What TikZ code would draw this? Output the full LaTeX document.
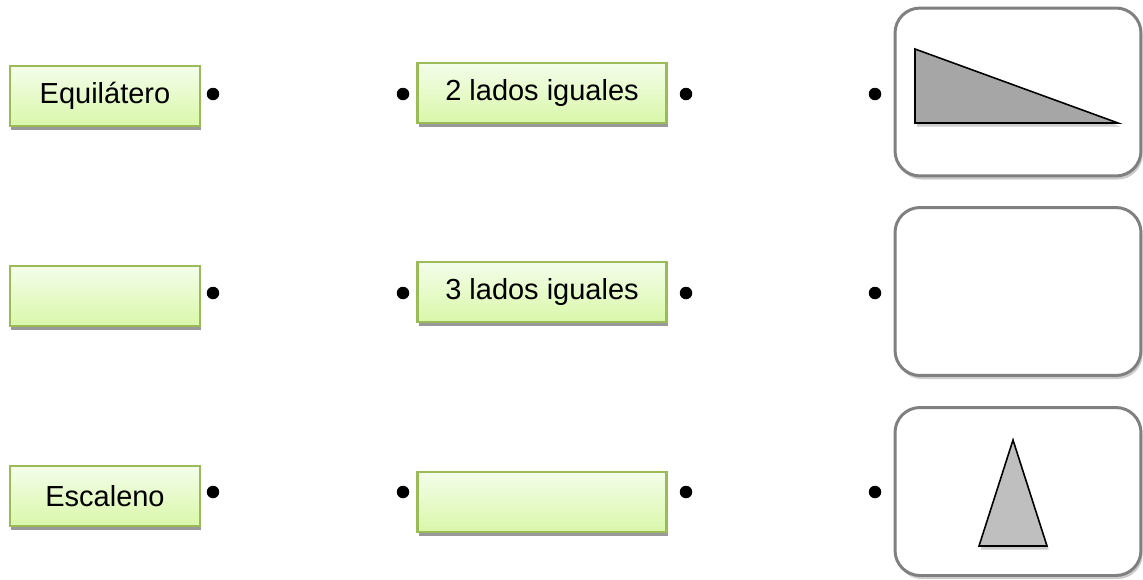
\documentclass[tikz,border=0pt]{standalone}
\usepackage{fontspec}
\setmainfont{Liberation Sans}
\usetikzlibrary{shadows}
\definecolor{boxgreen}{HTML}{9BBB59}
\definecolor{topgreen}{HTML}{F4FDEA}
\definecolor{botgreen}{HTML}{D9F7A9}
\definecolor{framegray}{HTML}{808080}
\definecolor{darktri}{HTML}{A6A6A6}
\definecolor{lighttri}{HTML}{BFBFBF}

\begin{document}
\begin{tikzpicture}[x=0.02cm,y=-0.02cm,
  lbl/.style={rectangle,draw=boxgreen,line width=1.3pt,top color=topgreen,bottom color=botgreen,minimum height=1.2cm,inner sep=0pt,font=\fontsize{16.5}{19}\selectfont,drop shadow={shadow xshift=0.7pt,shadow yshift=-2.2pt,opacity=0.4,fill=black}},
  leftlbl/.style={lbl,minimum width=3.8cm},
  midlbl/.style={lbl,minimum width=4.98cm},
  frame/.style={rectangle,draw=framegray,line width=1.7pt,rounded corners=0.5cm,fill=white,minimum width=4.92cm,minimum height=3.36cm,drop shadow={shadow xshift=1pt,shadow yshift=-2pt,opacity=0.2,fill=black}},
  bullet/.style={circle,fill=black,inner sep=0pt,minimum size=0.25cm},
  tri/.style={draw=black,line width=0.9pt,drop shadow={shadow xshift=1pt,shadow yshift=-2pt,opacity=0.2,fill=black}}]
\useasboundingbox (0,0) rectangle (1143,579);
% first column
\node[leftlbl] (equi) at (105,96) {Equil\'atero};
\node[leftlbl] (blankl) at (105,296) {};
\node[leftlbl] (esca) at (105,496) {Escaleno};
% second column
\node[midlbl] (dos) at (542,93) {2 lados iguales};
\node[midlbl] (tres) at (542,292) {3 lados iguales};
\node[midlbl] (blankm) at (542,502) {};
% pictures
\node[frame] (frect) at (1018,92) {};
\node[frame] (fempty) at (1018,291.5) {};
\node[frame] (facute) at (1018,491.5) {};
\draw[tri,fill=darktri] (915,49) -- (915,123) -- (1118,123) -- cycle;
\draw[tri,fill=lighttri] (1013,440) -- (979,546) -- (1047,546) -- cycle;
% dots
\foreach \r/\y in {1/94,2/293,3/492} {
  \foreach \c/\x in {a/213,b/403,c/686,d/875} {
    \node[bullet] (dot\r\c) at (\x,\y) {};
  }
}
\end{tikzpicture}
\end{document}
